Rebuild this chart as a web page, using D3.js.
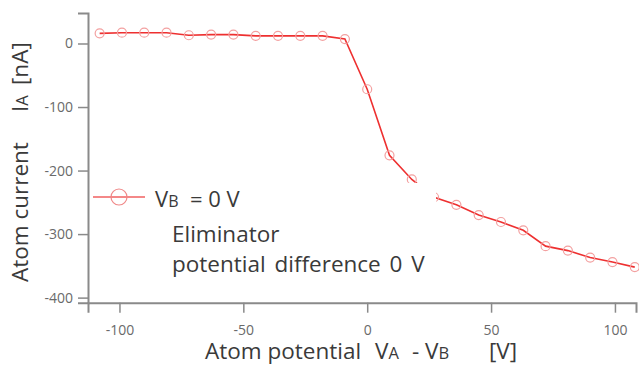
<!DOCTYPE html>
<html>
<head>
<meta charset="utf-8">
<script src="https://cdn.jsdelivr.net/npm/d3@7"></script>
<style>
  body { margin: 0; background: #fff; }
  text { font-family: "Open Sans", "DejaVu Sans", sans-serif; }
</style>
</head>
<body>
<div id="container"></div>
<script>
/* DATA */
const voltage = [-108, -99, -90, -81, -72, -63, -54, -45, -36, -27, -18, -9,
  0, 9, 18, 27, 36, 45, 54, 63, 72, 81, 90, 99, 108];
const current = [16, 17, 17, 17, 13, 14, 14, 12, 12, 12, 12, 7,
  -72, -176, -214, -242, -254, -270, -281, -294, -319, -326, -337, -344, -352];
const xTicks = [-100, -50, 0, 50, 100];
const yTicks = [0, -100, -200, -300, -400];

const width = 639, height = 365;

const xScale = d3.scaleLinear()
  .domain([-112.7, 108.5])
  .range([88, 636]);

const yScale = d3.scaleLinear()
  .domain([-408, 48])
  .range([302.7, 13]);

const svg = d3.select("#container")
  .append("svg")
  .attr("width", width)
  .attr("height", height);

// plain hyphen for negatives, like the original
const fmt = d => String(d);

// axes
const xAxis = d3.axisBottom(xScale)
  .tickValues(xTicks)
  .tickSize(10)
  .tickPadding(12)
  .tickFormat(fmt);

const gx = svg.append("g")
  .attr("transform", `translate(0, ${yScale.range()[0]})`)
  .call(xAxis);

const yAxis = d3.axisLeft(yScale)
  .tickValues(yTicks)
  .tickSize(10)
  .tickPadding(5)
  .tickFormat(fmt);

const gy = svg.append("g")
  .attr("transform", `translate(${xScale.range()[0]}, 0)`)
  .call(yAxis);

[gx, gy].forEach(g => {
  g.select(".domain").attr("stroke", "#8a8a8a").attr("stroke-width", 2);
  g.selectAll(".tick line").attr("stroke", "#8a8a8a").attr("stroke-width", 1.5);
  g.selectAll(".tick text")
    .attr("fill", "#6a6a6a")
    .style("font-size", "14px")
    .style("font-family", "'Open Sans', sans-serif");
});

// data line + markers
const line = d3.line()
  .x((d, i) => xScale(voltage[i]))
  .y(d => yScale(d));

svg.append("path")
  .datum(current)
  .attr("fill", "none")
  .attr("stroke", "#ee3030")
  .attr("stroke-width", 1.6)
  .attr("d", line);

svg.selectAll(".pt")
  .data(current)
  .join("circle")
  .attr("class", "pt")
  .attr("cx", (d, i) => xScale(voltage[i]))
  .attr("cy", d => yScale(d))
  .attr("r", 4.5)
  .attr("fill", "none")
  .attr("stroke", "#f3a0a0")
  .attr("stroke-width", 1.2);

// legend (white box hides part of the curve)
const legend = svg.append("g");
legend.append("rect")
  .attr("x", 91).attr("y", 183)
  .attr("width", 345).attr("height", 92)
  .attr("fill", "#fff");
legend.append("line")
  .attr("x1", 93).attr("x2", 145)
  .attr("y1", 197).attr("y2", 197)
  .attr("stroke", "#f06060").attr("stroke-width", 1.6);
legend.append("circle")
  .attr("cx", 119).attr("cy", 197).attr("r", 8)
  .attr("fill", "none").attr("stroke", "#f08888").attr("stroke-width", 1.2);

const lt = legend.append("text")
  .attr("x", 155).attr("y", 207)
  .attr("fill", "#3a3a3a")
  .style("font-size", "22px");
lt.append("tspan").text("V");
lt.append("tspan").style("font-size", "16px").text("B");
lt.append("tspan").attr("x", 190).text("= 0 V");

legend.append("text")
  .attr("x", 172).attr("y", 241.5)
  .attr("fill", "#3a3a3a")
  .style("font-size", "22.5px")
  .text("Eliminator");
legend.append("text")
  .attr("x", 172).attr("y", 271.5)
  .attr("fill", "#3a3a3a")
  .style("font-size", "22.5px")
  .style("word-spacing", "3px")
  .text("potential difference 0 V");

// axis titles
const xt = svg.append("text")
  .attr("y", 359)
  .attr("fill", "#3a3a3a")
  .style("font-size", "22.5px");
xt.append("tspan").attr("x", 205).text("Atom potential");
xt.append("tspan").attr("x", 375).text("V");
xt.append("tspan").style("font-size", "16.5px").text("A");
xt.append("tspan").attr("x", 412).text("-");
xt.append("tspan").attr("x", 425).text("V");
xt.append("tspan").style("font-size", "16.5px").text("B");
xt.append("tspan").attr("x", 489).text("[V]");

const yt = svg.append("text")
  .attr("transform", "translate(28, 282) rotate(-90)")
  .attr("fill", "#3a3a3a")
  .style("font-size", "22.5px");
yt.append("tspan").attr("x", 0).text("Atom current");
yt.append("tspan").attr("x", 170).text("I");
yt.append("tspan").style("font-size", "16.5px").text("A");
yt.append("tspan").attr("x", 197).text("[nA]");
</script>
</body>
</html>
